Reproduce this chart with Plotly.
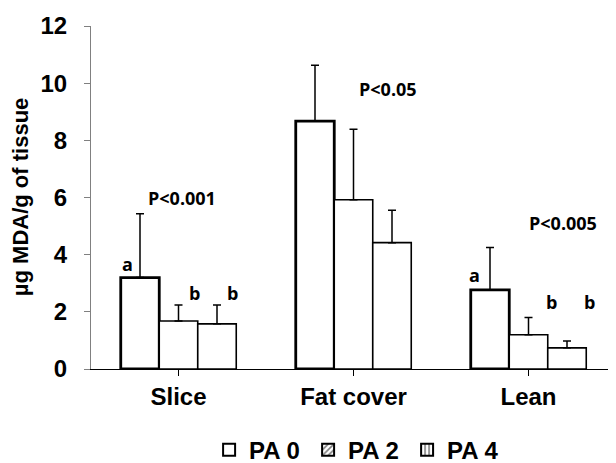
import plotly.graph_objects as go

categories = ["Slice", "Fat cover", "Lean"]
series_names = ["PA 0", "PA 2", "PA 4"]
pa0_values = [3.2, 8.67, 2.77]
pa0_errors = [2.23, 1.96, 1.48]
pa2_values = [1.68, 5.92, 1.2]
pa2_errors = [0.56, 2.47, 0.6]
pa4_values = [1.58, 4.42, 0.74]
pa4_errors = [0.66, 1.13, 0.24]
y_ticks = [0, 2, 4, 6, 8, 10, 12]
y_title = "µg MDA/g of tissue"

values = [pa0_values, pa2_values, pa4_values]
errors = [pa0_errors, pa2_errors, pa4_errors]
offsets = [-0.33, -0.11, 0.11]
line_widths = [2.8, 1.6, 1.6]
patterns = ["", "/", "|"]

x_idx = list(range(len(categories)))
fig = go.Figure()
for i, name in enumerate(series_names):
    fig.add_trace(go.Bar(
        x=x_idx, y=values[i], width=0.22, offset=offsets[i],
        marker=dict(color="white", line=dict(color="black", width=line_widths[i])),
        error_y=dict(type="data", array=errors[i], arrayminus=[0] * 3, symmetric=False,
                     color="black", thickness=1.5, width=4),
        showlegend=False,
    ))
for i, name in enumerate(series_names):
    fig.add_trace(go.Bar(
        x=[None], y=[None], name=f"<b>{name}</b>",
        marker=dict(color="white", line=dict(color="black", width=2),
                    pattern=dict(shape=patterns[i], fgcolor="black", size=5, solidity=0.4)),
    ))

ann_font = dict(family="Open Sans, Liberation Sans, Arial", size=18, color="black")
let_font = dict(family="Open Sans, Liberation Sans, Arial", size=18, color="black")
annots = [
    ("<b>P<0.001</b>", 0.02, 5.98, ann_font),
    ("<b>a</b>", -0.294, 3.67, let_font),
    ("<b>b</b>", 0.089, 2.66, let_font),
    ("<b>b</b>", 0.306, 2.66, let_font),
    ("<b>P<0.05</b>", 1.197, 9.79, ann_font),
    ("<b>P<0.005</b>", 2.197, 5.1, ann_font),
    ("<b>a</b>", 1.694, 3.29, let_font),
    ("<b>b</b>", 2.129, 2.34, let_font),
    ("<b>b</b>", 2.351, 2.34, let_font),
]
for t, x, y, f in annots:
    fig.add_annotation(text=t, x=x, y=y, xref="x", yref="y", showarrow=False, font=f)

# y-axis title as rotated text
fig.add_annotation(text=f"<b>{y_title}</b>", x=-0.134, y=0.5, xref="paper", yref="paper",
                   xanchor="center", yanchor="middle", textangle=-90, showarrow=False,
                   font=dict(size=22, family="Liberation Sans, Arial", color="black"))

# page body adds an 8px margin, so the figure is sized to fill the rest of the window
fig.update_layout(
    width=608, height=455,
    margin=dict(l=83, r=0, t=18, b=94),
    plot_bgcolor="white", paper_bgcolor="white",
    barmode="overlay",
    font=dict(family="Liberation Sans, Arial", color="black"),
    xaxis=dict(
        tickmode="array", tickvals=x_idx, ticktext=[f"<b>{c}</b>" for c in categories],
        range=[-0.5, 2.5], showline=True, linecolor="black", linewidth=1,
        ticks="outside", tickson="boundaries", ticklen=6, tickcolor="black",
        showgrid=False, zeroline=False, ticklabelstandoff=0,
        tickfont=dict(size=24, family="Liberation Sans, Arial", color="black"),
    ),
    yaxis=dict(
        range=[0, 12], tickvals=y_ticks, ticktext=[f"<b>{v}</b>" for v in y_ticks],
        showline=True, linecolor="#808080", linewidth=1,
        ticks="outside", ticklen=6, tickcolor="#808080", showgrid=False, zeroline=False,
        ticklabelstandoff=12,
        tickfont=dict(size=24, family="Liberation Sans, Arial", color="black"),
    ),
    legend=dict(
        orientation="h", x=0.575, xanchor="center", xref="container",
        y=0.028, yanchor="middle", yref="container",
        font=dict(size=24, family="Liberation Sans, Arial", color="black"),
        entrywidth=54, entrywidthmode="pixels", tracegroupgap=0,
    ),
)
fig.write_html("out.html")
